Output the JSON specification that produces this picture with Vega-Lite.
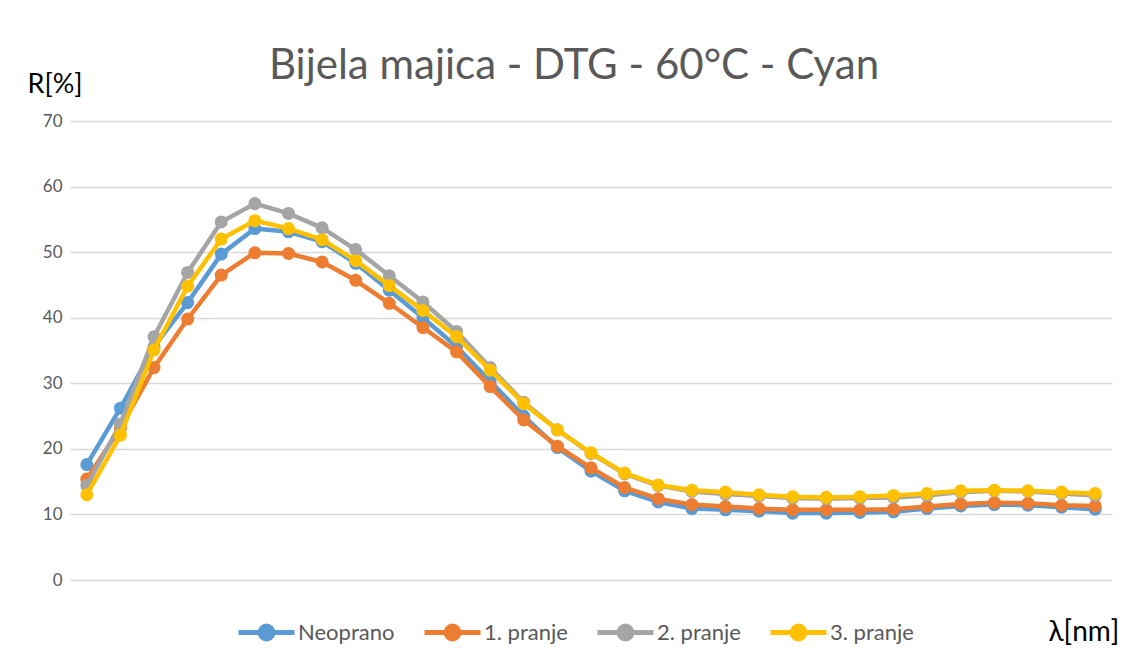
{
  "$schema": "https://vega.github.io/schema/vega-lite/v6.json",
  "autosize": {"type": "none"},
  "width": 1042,
  "height": 459,
  "padding": {"left": 70, "top": 121, "right": 18, "bottom": 86},
  "background": "white",
  "title": {
    "text": "Bijela majica - DTG - 60°C - Cyan",
    "font": "Lato",
    "fontSize": 42,
    "fontWeight": "normal",
    "color": "#595959",
    "anchor": "middle",
    "baseline": "alphabetic",
    "dx": -17,
    "dy": 45,
    "offset": -6
  },
  "datasets": {
    "spektar": [
      {"nm": 400, "serija": "Neoprano", "R": 17.6}, {"nm": 410, "serija": "Neoprano", "R": 26.2}, {"nm": 420, "serija": "Neoprano", "R": 35.6}, {"nm": 430, "serija": "Neoprano", "R": 42.3}, {"nm": 440, "serija": "Neoprano", "R": 49.7}, {"nm": 450, "serija": "Neoprano", "R": 53.6}, {"nm": 460, "serija": "Neoprano", "R": 53.1}, {"nm": 470, "serija": "Neoprano", "R": 51.6}, {"nm": 480, "serija": "Neoprano", "R": 48.3}, {"nm": 490, "serija": "Neoprano", "R": 44.2}, {"nm": 500, "serija": "Neoprano", "R": 40.0}, {"nm": 510, "serija": "Neoprano", "R": 35.6}, {"nm": 520, "serija": "Neoprano", "R": 30.3}, {"nm": 530, "serija": "Neoprano", "R": 25.0}, {"nm": 540, "serija": "Neoprano", "R": 20.2}, {"nm": 550, "serija": "Neoprano", "R": 16.6}, {"nm": 560, "serija": "Neoprano", "R": 13.6}, {"nm": 570, "serija": "Neoprano", "R": 11.9}, {"nm": 580, "serija": "Neoprano", "R": 10.9}, {"nm": 590, "serija": "Neoprano", "R": 10.7}, {"nm": 600, "serija": "Neoprano", "R": 10.5}, {"nm": 610, "serija": "Neoprano", "R": 10.2}, {"nm": 620, "serija": "Neoprano", "R": 10.2}, {"nm": 630, "serija": "Neoprano", "R": 10.3}, {"nm": 640, "serija": "Neoprano", "R": 10.4}, {"nm": 650, "serija": "Neoprano", "R": 10.9}, {"nm": 660, "serija": "Neoprano", "R": 11.3}, {"nm": 670, "serija": "Neoprano", "R": 11.5}, {"nm": 680, "serija": "Neoprano", "R": 11.4}, {"nm": 690, "serija": "Neoprano", "R": 11.1}, {"nm": 700, "serija": "Neoprano", "R": 10.8},
      {"nm": 400, "serija": "1. pranje", "R": 15.4}, {"nm": 410, "serija": "1. pranje", "R": 23.2}, {"nm": 420, "serija": "1. pranje", "R": 32.4}, {"nm": 430, "serija": "1. pranje", "R": 39.8}, {"nm": 440, "serija": "1. pranje", "R": 46.5}, {"nm": 450, "serija": "1. pranje", "R": 49.9}, {"nm": 460, "serija": "1. pranje", "R": 49.8}, {"nm": 470, "serija": "1. pranje", "R": 48.5}, {"nm": 480, "serija": "1. pranje", "R": 45.7}, {"nm": 490, "serija": "1. pranje", "R": 42.2}, {"nm": 500, "serija": "1. pranje", "R": 38.5}, {"nm": 510, "serija": "1. pranje", "R": 34.8}, {"nm": 520, "serija": "1. pranje", "R": 29.5}, {"nm": 530, "serija": "1. pranje", "R": 24.4}, {"nm": 540, "serija": "1. pranje", "R": 20.4}, {"nm": 550, "serija": "1. pranje", "R": 17.1}, {"nm": 560, "serija": "1. pranje", "R": 14.1}, {"nm": 570, "serija": "1. pranje", "R": 12.4}, {"nm": 580, "serija": "1. pranje", "R": 11.5}, {"nm": 590, "serija": "1. pranje", "R": 11.2}, {"nm": 600, "serija": "1. pranje", "R": 10.9}, {"nm": 610, "serija": "1. pranje", "R": 10.7}, {"nm": 620, "serija": "1. pranje", "R": 10.7}, {"nm": 630, "serija": "1. pranje", "R": 10.7}, {"nm": 640, "serija": "1. pranje", "R": 10.8}, {"nm": 650, "serija": "1. pranje", "R": 11.2}, {"nm": 660, "serija": "1. pranje", "R": 11.6}, {"nm": 670, "serija": "1. pranje", "R": 11.8}, {"nm": 680, "serija": "1. pranje", "R": 11.7}, {"nm": 690, "serija": "1. pranje", "R": 11.4}, {"nm": 700, "serija": "1. pranje", "R": 11.3},
      {"nm": 400, "serija": "2. pranje", "R": 14.4}, {"nm": 410, "serija": "2. pranje", "R": 23.8}, {"nm": 420, "serija": "2. pranje", "R": 37.1}, {"nm": 430, "serija": "2. pranje", "R": 46.9}, {"nm": 440, "serija": "2. pranje", "R": 54.6}, {"nm": 450, "serija": "2. pranje", "R": 57.4}, {"nm": 460, "serija": "2. pranje", "R": 55.9}, {"nm": 470, "serija": "2. pranje", "R": 53.7}, {"nm": 480, "serija": "2. pranje", "R": 50.4}, {"nm": 490, "serija": "2. pranje", "R": 46.4}, {"nm": 500, "serija": "2. pranje", "R": 42.4}, {"nm": 510, "serija": "2. pranje", "R": 37.9}, {"nm": 520, "serija": "2. pranje", "R": 32.4}, {"nm": 530, "serija": "2. pranje", "R": 27.1}, {"nm": 540, "serija": "2. pranje", "R": 22.9}, {"nm": 550, "serija": "2. pranje", "R": 19.3}, {"nm": 560, "serija": "2. pranje", "R": 16.2}, {"nm": 570, "serija": "2. pranje", "R": 14.4}, {"nm": 580, "serija": "2. pranje", "R": 13.5}, {"nm": 590, "serija": "2. pranje", "R": 13.1}, {"nm": 600, "serija": "2. pranje", "R": 12.8}, {"nm": 610, "serija": "2. pranje", "R": 12.5}, {"nm": 620, "serija": "2. pranje", "R": 12.4}, {"nm": 630, "serija": "2. pranje", "R": 12.5}, {"nm": 640, "serija": "2. pranje", "R": 12.6}, {"nm": 650, "serija": "2. pranje", "R": 12.9}, {"nm": 660, "serija": "2. pranje", "R": 13.4}, {"nm": 670, "serija": "2. pranje", "R": 13.6}, {"nm": 680, "serija": "2. pranje", "R": 13.5}, {"nm": 690, "serija": "2. pranje", "R": 13.2}, {"nm": 700, "serija": "2. pranje", "R": 12.9},
      {"nm": 400, "serija": "3. pranje", "R": 13.0}, {"nm": 410, "serija": "3. pranje", "R": 22.1}, {"nm": 420, "serija": "3. pranje", "R": 35.1}, {"nm": 430, "serija": "3. pranje", "R": 44.8}, {"nm": 440, "serija": "3. pranje", "R": 52.0}, {"nm": 450, "serija": "3. pranje", "R": 54.8}, {"nm": 460, "serija": "3. pranje", "R": 53.6}, {"nm": 470, "serija": "3. pranje", "R": 51.9}, {"nm": 480, "serija": "3. pranje", "R": 48.7}, {"nm": 490, "serija": "3. pranje", "R": 44.9}, {"nm": 500, "serija": "3. pranje", "R": 41.1}, {"nm": 510, "serija": "3. pranje", "R": 37.1}, {"nm": 520, "serija": "3. pranje", "R": 32.0}, {"nm": 530, "serija": "3. pranje", "R": 26.9}, {"nm": 540, "serija": "3. pranje", "R": 22.9}, {"nm": 550, "serija": "3. pranje", "R": 19.4}, {"nm": 560, "serija": "3. pranje", "R": 16.3}, {"nm": 570, "serija": "3. pranje", "R": 14.5}, {"nm": 580, "serija": "3. pranje", "R": 13.7}, {"nm": 590, "serija": "3. pranje", "R": 13.4}, {"nm": 600, "serija": "3. pranje", "R": 13.0}, {"nm": 610, "serija": "3. pranje", "R": 12.7}, {"nm": 620, "serija": "3. pranje", "R": 12.6}, {"nm": 630, "serija": "3. pranje", "R": 12.7}, {"nm": 640, "serija": "3. pranje", "R": 12.9}, {"nm": 650, "serija": "3. pranje", "R": 13.2}, {"nm": 660, "serija": "3. pranje", "R": 13.6}, {"nm": 670, "serija": "3. pranje", "R": 13.7}, {"nm": 680, "serija": "3. pranje", "R": 13.6}, {"nm": 690, "serija": "3. pranje", "R": 13.4}, {"nm": 700, "serija": "3. pranje", "R": 13.2}
    ]
  },
  "data": {"name": "spektar"},
  "encoding": {
    "x": {
      "field": "nm", "type": "quantitative",
      "scale": {"domain": [395, 705], "nice": false, "zero": false},
      "axis": {
        "title": "λ[nm]", "labels": false, "ticks": false, "domain": false, "grid": false,
        "titleFont": "Lato", "titleFontSize": 28, "titleFontWeight": "normal", "titleColor": "#000000",
        "titleAngle": 0, "titleAlign": "left", "titleBaseline": "alphabetic", "titleX": 978, "titleY": 60
      }
    },
    "y": {
      "field": "R", "type": "quantitative",
      "scale": {"domain": [0, 70], "nice": false},
      "axis": {
        "title": "R[%]", "values": [0, 10, 20, 30, 40, 50, 60, 70],
        "domain": false, "ticks": false, "tickSize": 0, "labelPadding": 8,
        "labelFont": "Lato", "labelFontSize": 17, "labelColor": "#595959",
        "grid": true, "gridColor": "#d9d9d9", "gridWidth": 1.3,
        "titleFont": "Lato", "titleFontSize": 27, "titleFontWeight": "normal", "titleColor": "#000000",
        "titleAngle": 0, "titleAlign": "left", "titleBaseline": "alphabetic", "titleX": -43, "titleY": -29
      }
    },
    "color": {
      "field": "serija", "type": "nominal",
      "scale": {"domain": ["Neoprano", "1. pranje", "2. pranje", "3. pranje"], "range": ["#5B9BD5", "#ED7D31", "#A5A5A5", "#FFC000"]},
      "legend": {
        "title": null, "orient": "none", "direction": "horizontal", "legendX": 166, "legendY": 481,
        "symbolType": "M-1,0H1M0.23,0A0.23,0.23,0,1,1,-0.23,0A0.23,0.23,0,1,1,0.23,0Z",
        "symbolSize": 3136, "symbolStrokeWidth": 5,
        "labelFont": "Lato", "labelFontSize": 22, "labelColor": "#595959", "labelOffset": 1,
        "columnPadding": 19, "padding": 0
      }
    }
  },
  "layer": [
    {"transform": [{"filter": "datum.serija === 'Neoprano'"}], "layer": [
      {"mark": {"type": "line", "strokeWidth": 4.5, "strokeCap": "round", "strokeJoin": "round"}},
      {"mark": {"type": "point", "shape": "circle", "filled": true, "size": 170, "opacity": 1}}
    ]},
    {"transform": [{"filter": "datum.serija === '1. pranje'"}], "layer": [
      {"mark": {"type": "line", "strokeWidth": 4.5, "strokeCap": "round", "strokeJoin": "round"}},
      {"mark": {"type": "point", "shape": "circle", "filled": true, "size": 170, "opacity": 1}}
    ]},
    {"transform": [{"filter": "datum.serija === '2. pranje'"}], "layer": [
      {"mark": {"type": "line", "strokeWidth": 4.5, "strokeCap": "round", "strokeJoin": "round"}},
      {"mark": {"type": "point", "shape": "circle", "filled": true, "size": 170, "opacity": 1}}
    ]},
    {"transform": [{"filter": "datum.serija === '3. pranje'"}], "layer": [
      {"mark": {"type": "line", "strokeWidth": 4.5, "strokeCap": "round", "strokeJoin": "round"}},
      {"mark": {"type": "point", "shape": "circle", "filled": true, "size": 170, "opacity": 1}}
    ]}
  ],
  "config": {
    "view": {"stroke": null},
    "font": "Lato"
  }
}
